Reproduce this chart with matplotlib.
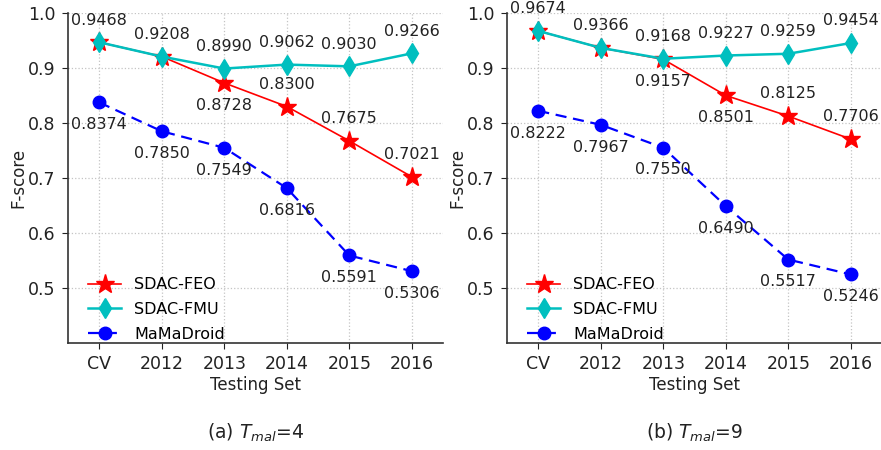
import numpy as np
import matplotlib
matplotlib.use('Agg')
import matplotlib.pyplot as plt

# x categories
sets = ['CV', '2012', '2013', '2014', '2015', '2016']

# panel (a) T_mal=4
feo_a = [0.9468, 0.9208, 0.8728, 0.8300, 0.7675, 0.7021]
fmu_a = [0.9468, 0.9208, 0.8990, 0.9062, 0.9030, 0.9266]
mama_a = [0.8374, 0.7850, 0.7549, 0.6816, 0.5591, 0.5306]

# panel (b) T_mal=9
feo_b = [0.9674, 0.9366, 0.9157, 0.8501, 0.8125, 0.7706]
fmu_b = [0.9674, 0.9366, 0.9168, 0.9227, 0.9259, 0.9454]
mama_b = [0.8222, 0.7967, 0.7550, 0.6490, 0.5517, 0.5246]

captions = ['(a) $T_{mal}$=4', '(b) $T_{mal}$=9']

# label placement: +1 above, -1 below, 0 no label (shared point)
feo_pos_a = [0, 0, -1, 1, 1, 1]
feo_pos_b = [0, 0, -1, -1, 1, 1]

FS = 11.5
TFS = 12.5

fig = plt.figure(figsize=(8.81, 4.5), dpi=100)
ax_a = fig.add_axes([0.0772, 0.2378, 0.4257, 0.7333])
ax_b = fig.add_axes([0.5755, 0.2378, 0.4257, 0.7333])


def draw(ax, feo, fmu, mama, feo_pos, caption):
    x = np.arange(len(sets))
    ax.plot(x, feo, color='red', marker='*', markersize=14, lw=1.2, label='SDAC-FEO', zorder=3)
    ax.plot(x, fmu, color='c', marker='d', markersize=10, lw=1.8, label='SDAC-FMU', zorder=4)
    ax.plot(x, mama, color='b', marker='o', markersize=9, lw=1.6, ls='--', dashes=(5, 3),
            label='MaMaDroid', zorder=3)

    off = 16
    for i, v in enumerate(fmu):
        ax.annotate('%.4f' % v, (x[i], v), xytext=(0, off), textcoords='offset points',
                    ha='center', va='center', fontsize=FS, color='#222222')
    for i, v in enumerate(feo):
        if feo_pos[i] == 0:
            continue
        ax.annotate('%.4f' % v, (x[i], v), xytext=(0, off * feo_pos[i]), textcoords='offset points',
                    ha='center', va='center', fontsize=FS, color='#222222')
    for i, v in enumerate(mama):
        ax.annotate('%.4f' % v, (x[i], v), xytext=(0, -off), textcoords='offset points',
                    ha='center', va='center', fontsize=FS, color='#222222')

    ax.set_xlim(-0.5, 5.5)
    ax.set_ylim(0.4, 1.0)
    ax.set_xticks(x)
    ax.set_xticklabels(sets)
    ax.set_yticks([0.5, 0.6, 0.7, 0.8, 0.9, 1.0])
    ax.tick_params(labelsize=TFS, colors='#222222', length=4, pad=5)
    ax.grid(True, ls=':', color='#c4c4c4', lw=0.9)
    ax.set_axisbelow(True)
    for s in ['top', 'right']:
        ax.spines[s].set_visible(False)
    for s in ['left', 'bottom']:
        ax.spines[s].set_color('#333333')
        ax.spines[s].set_linewidth(1.2)
    ax.set_xlabel('Testing Set', fontsize=12, color='#222222', labelpad=2)
    ax.set_ylabel('F-score', fontsize=12, color='#222222', labelpad=0.5)
    ax.legend(loc='lower left', bbox_to_anchor=(0.036, -0.015), frameon=False, fontsize=FS,
              handlelength=2.1, handletextpad=0.8, labelspacing=0.6, borderaxespad=0)
    pos = ax.get_position()
    fig.text(pos.x0 + pos.width / 2, 0.038, caption, ha='center', va='center',
             fontsize=13.5, color='#222222')


draw(ax_a, feo_a, fmu_a, mama_a, feo_pos_a, captions[0])
draw(ax_b, feo_b, fmu_b, mama_b, feo_pos_b, captions[1])

fig.savefig('out.png', dpi=100)
